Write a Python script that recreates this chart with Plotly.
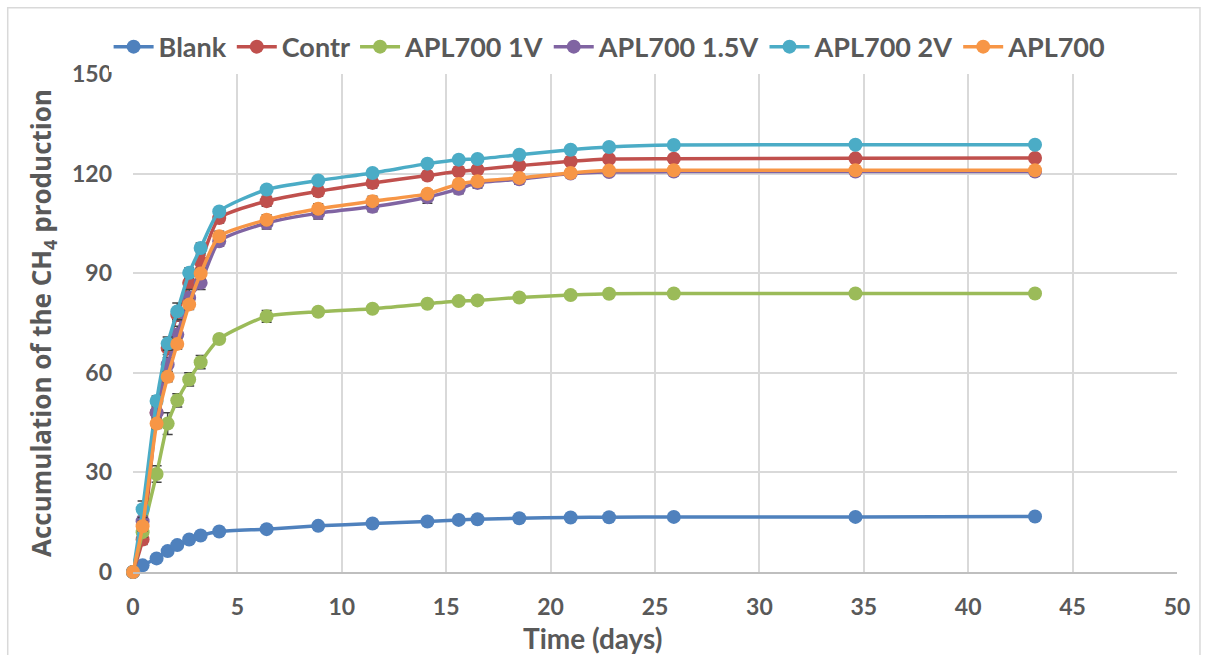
import plotly.graph_objects as go

days = [0, 0.46, 1.13, 1.66, 2.12, 2.69, 3.24, 4.13, 6.4, 8.87, 11.47, 14.1, 15.6, 16.5, 18.5, 20.96, 22.8, 25.9, 34.6, 43.2]

blank = [0, 2.0, 4.1, 6.3, 8.1, 9.8, 11.0, 12.2, 12.9, 13.9, 14.6, 15.2, 15.7, 15.9, 16.2, 16.4, 16.5, 16.6, 16.6, 16.7]
contr = [0, 9.8, 48.0, 67.5, 77.5, 87.1, 93.5, 106.6, 111.7, 114.7, 117.2, 119.4, 120.7, 121.2, 122.4, 123.7, 124.4, 124.5, 124.6, 124.7]
apl_1v = [0, 12.0, 29.5, 44.7, 51.7, 58.0, 63.2, 70.2, 77.0, 78.4, 79.3, 80.8, 81.6, 81.8, 82.7, 83.4, 83.8, 83.9, 83.9, 83.9]
apl_15v = [0, 15.3, 48.0, 62.5, 71.5, 82.6, 87.1, 99.6, 105.1, 108.1, 110.0, 112.9, 115.4, 117.2, 118.3, 120.0, 120.5, 120.6, 120.6, 120.6]
apl_2v = [0, 18.9, 51.5, 68.8, 78.5, 90.1, 97.6, 108.6, 115.2, 117.9, 120.2, 123.0, 124.2, 124.4, 125.7, 127.2, 128.0, 128.6, 128.7, 128.7]
apl700 = [0, 13.8, 44.7, 58.8, 68.7, 80.6, 89.9, 101.1, 106.1, 109.4, 111.7, 113.9, 116.9, 117.7, 118.7, 120.2, 120.9, 121.0, 121.0, 121.0]

err_blank = [0, 0.3, 0.3, 0.3, 0.3, 0.3, 0.3, 0.3, 0.3, 0.3, 0.3, 0.3, 0.3, 0.3, 0.3, 0.3, 0.3, 0.3, 0.3, 0.3]
err_contr = [0, 1.5, 1.5, 2.0, 2.0, 2.0, 2.0, 1.5, 1.5, 1.5, 1.5, 1.2, 1.2, 1.2, 1.2, 1.0, 1.0, 1.0, 1.0, 1.0]
err_1v = [0, 1.5, 2.5, 3.3, 2.0, 2.0, 2.0, 1.0, 1.8, 1.0, 0.8, 0.8, 0.8, 0.8, 0.8, 0.5, 0.5, 0.5, 0.5, 0.5]
err_15v = [0, 1.5, 2.0, 2.0, 2.5, 2.5, 2.0, 1.5, 1.8, 1.8, 1.5, 1.8, 1.5, 1.5, 1.5, 1.2, 1.2, 1.2, 1.2, 1.2]
err_2v = [0, 2.5, 1.5, 2.0, 2.5, 1.5, 1.5, 1.0, 1.0, 1.0, 1.0, 1.0, 1.0, 1.0, 1.0, 0.8, 0.8, 0.8, 0.8, 0.8]
err_700 = [0, 1.5, 1.5, 1.5, 1.5, 1.5, 1.5, 1.5, 1.5, 1.5, 1.5, 1.2, 1.2, 1.2, 1.2, 1.0, 1.0, 1.0, 1.0, 1.0]

names = ["Blank", "Contr", "APL700 1V", "APL700 1.5V", "APL700 2V", "APL700"]
series = [blank, contr, apl_1v, apl_15v, apl_2v, apl700]
errors = [err_blank, err_contr, err_1v, err_15v, err_2v, err_700]
colors = ["#4F81BD", "#C0504D", "#9BBB59", "#8064A2", "#4BACC6", "#F79646"]
x_title = "Time (days)"
y_title = "Accumulation of the CH<sub>4</sub> production"

fig = go.Figure()
for n, s, e, c in zip(names, series, errors, colors):
    fig.add_trace(go.Scatter(
        x=days, y=s, name=n, mode="lines+markers", cliponaxis=False,
        line=dict(color=c, width=3.5, shape="spline", smoothing=0.6),
        marker=dict(color=c, size=14),
        error_y=dict(type="data", array=e, visible=True, color="#404040", thickness=1.5, width=5),
    ))

font = "Lato, 'Open Sans', sans-serif"
grey = "#595959"
fig.update_layout(
    width=1207, height=655,
    margin=dict(l=133, r=30, t=74, b=83, autoexpand=False),
    paper_bgcolor="white", plot_bgcolor="white",
    font=dict(family=font, color=grey),
    showlegend=True,
    legend=dict(orientation="h", x=0.457, xanchor="center", y=1.054, yanchor="middle",
                font=dict(size=27, color=grey, family=font, weight="bold"),
                itemwidth=40, tracegroupgap=0),
    xaxis=dict(range=[0, 50], dtick=5, showgrid=True, gridcolor="#D9D9D9", gridwidth=1.5,
               zeroline=False, showline=True, linecolor="#BFBFBF", linewidth=1.5,
               ticks="", ticklabelstandoff=14,
               tickfont=dict(size=23, color=grey, family=font, weight="bold")),
    yaxis=dict(range=[0, 150], dtick=30, showgrid=True, gridcolor="#D9D9D9", gridwidth=1.5,
               zeroline=False, showline=False, ticks="", ticklabelstandoff=20,
               tickfont=dict(size=23, color=grey, family=font, weight="bold"),
               title=dict(text=y_title,
                          font=dict(size=26, color=grey, family="'Open Sans', sans-serif", weight="bold"), standoff=12)),
)
fig.add_annotation(text=x_title, xref="paper", yref="paper", x=0.44, y=-0.1335,
                   xanchor="center", yanchor="middle", showarrow=False,
                   font=dict(size=28, color=grey, family=font, weight="bold"))
fig.add_shape(type="rect", xref="paper", yref="paper", x0=-0.12, x1=1.022, y0=-0.2, y1=1.133,
              line=dict(color="#D9D9D9", width=1.5), fillcolor="rgba(0,0,0,0)", layer="below")

fig.write_html("out.html")
